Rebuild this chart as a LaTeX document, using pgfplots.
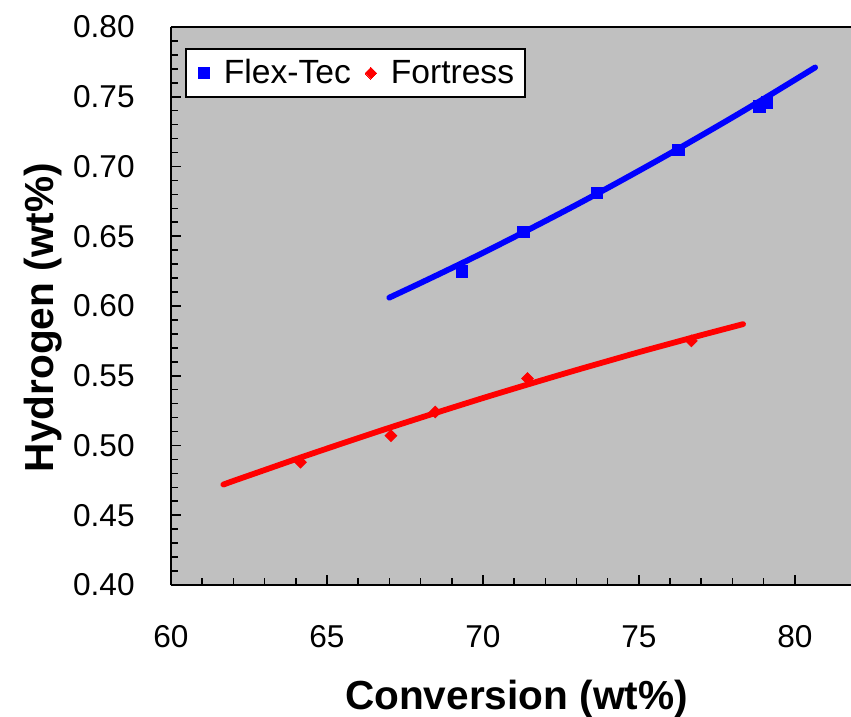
\documentclass[border=0pt]{standalone}
\usepackage{fontspec}
\setmainfont{Liberation Sans}
\usepackage{pgfplots}
\pgfplotsset{compat=1.18}
\definecolor{bggray}{HTML}{C0C0C0}
\begin{document}
\begin{tikzpicture}
\begin{axis}[
  name=ax,
  scale only axis,
  width=340pt, height=279pt,
  xmin=60, xmax=81.8, ymin=0.4, ymax=0.8,
  axis x line*=bottom, axis y line*=left,
  axis line style={line width=0.9pt, black},
  axis background/.style={fill=bggray},
  xtick={60,65,70,75,80},
  ytick={0.40,0.45,0.50,0.55,0.60,0.65,0.70,0.75,0.80},
  minor x tick num=4, minor y tick num=4,
  tick align=inside,
  major tick length=5pt, minor tick length=3.3pt,
  every tick/.style={black, line width=0.8pt},
  /pgf/number format/assume math mode=true,
  tick label style={font=\fontsize{15.8}{18}\selectfont, inner sep=0pt},
  xticklabel style={anchor=base, yshift=-31pt},
  yticklabel style={anchor=east, xshift=-18pt, /pgf/number format/.cd, fixed, fixed zerofill, precision=2},
  xlabel={Conversion (wt\%)},
  ylabel={Hydrogen (wt\%)},
  label style={font=\bfseries\fontsize{20.3}{24}\selectfont, inner sep=0pt},
  xlabel style={at={(axis description cs:0.508,-0.224)}, anchor=base},
  ylabel style={at={(axis description cs:-0.1735,0.479)}, anchor=base, rotate=0},
  legend columns=2,
  legend style={at={(axis description cs:0.0206,0.962)}, anchor=north west,
    draw=black, line width=0.9pt, fill=white,
    inner xsep=3pt, inner ysep=2.7pt,
    font=\fontsize{16.8}{19}\selectfont,
    nodes={inner sep=2.5pt},
    /tikz/every even column/.append style={column sep=1.5pt}},
  legend image code/.code={\path[draw=none, fill=none] (0pt,0pt) -- (13.5pt,0pt); \draw[#1, line width=0pt] plot coordinates {(6pt,0pt)};},
]
\addplot[only marks, mark=square*, mark size=2.9pt, color=blue] coordinates {
  (69.33,0.625) (71.29,0.653) (73.66,0.681) (76.26,0.712) (78.86,0.743) (79.11,0.746)
};
\addlegendentry{Flex-Tec}
\addplot[only marks, mark=square*, mark size=2.07pt, mark options={rotate=45}, color=red] coordinates {
  (64.15,0.488) (67.05,0.507) (68.47,0.524) (71.43,0.548) (76.68,0.575)
};
\addlegendentry{Fortress}
\addplot[forget plot, blue, line width=2.9pt, line cap=round, smooth] coordinates {
  (67,0.606) (68,0.6165) (69,0.6272) (70,0.6381) (71,0.6494) (72,0.6609) (73,0.6726)
  (74,0.6846) (75,0.6969) (76,0.7094) (77,0.7222) (78,0.7352) (79,0.7485) (80,0.7621) (80.65,0.771)
};
\addplot[forget plot, red, line width=2.9pt, line cap=round, smooth] coordinates {
  (61.68,0.472) (62,0.4746) (63,0.4824) (64,0.4902) (65,0.4978) (66,0.5053) (67,0.5127)
  (68,0.5199) (69,0.5270) (70,0.5340) (71,0.5408) (72,0.5475) (73,0.5541) (74,0.5605)
  (75,0.5669) (76,0.5730) (77,0.5791) (78,0.5850) (78.34,0.587)
};
\draw[line width=0.9pt, black] (rel axis cs:0,1) -- (rel axis cs:1,1);
\end{axis}
\pgfresetboundingbox
\path ([shift={(-85.5pt,-66pt)}]ax.south west) rectangle ([shift={(0pt,13.5pt)}]ax.north east);
\end{tikzpicture}
\end{document}
